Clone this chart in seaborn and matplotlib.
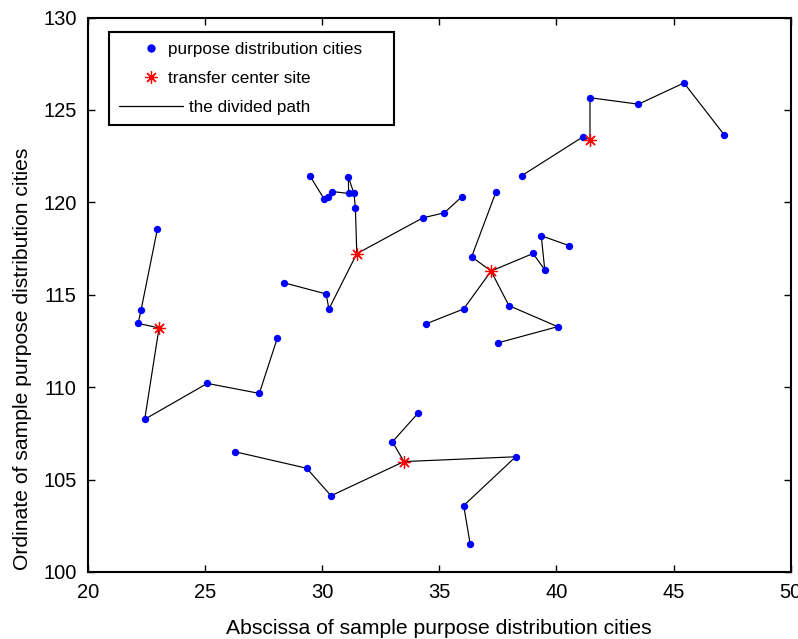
import numpy as np
import pandas as pd
import matplotlib
matplotlib.use("Agg")
import matplotlib.pyplot as plt
from matplotlib.lines import Line2D
from matplotlib.transforms import Affine2D
import seaborn as sns

# sample purpose distribution cities
city_x = [22.97, 22.27, 22.15, 22.43, 25.10, 27.32, 28.09,
          29.47, 30.08, 30.24, 30.44, 31.13, 31.12, 31.36, 31.42,
          30.29, 30.17, 28.36, 34.30, 35.21, 35.97,
          26.29, 29.34, 30.38, 33.00, 34.10, 38.26, 36.04, 36.32,
          37.42, 36.38, 39.00, 39.50, 39.35, 40.53, 36.04, 34.45,
          37.97, 40.05, 37.49,
          47.16, 45.44, 43.50, 41.43, 41.15, 38.53]
city_y = [118.55, 114.15, 113.45, 108.26, 110.20, 109.66, 112.66,
          121.45, 120.19, 120.28, 120.58, 120.48, 121.36, 120.48, 119.69,
          114.23, 115.04, 115.65, 119.16, 119.43, 120.31,
          106.50, 105.61, 104.12, 107.04, 108.60, 106.23, 103.59, 101.49,
          120.57, 117.05, 117.23, 116.35, 118.19, 117.66, 114.23, 113.43,
          114.41, 113.27, 112.39,
          123.65, 126.46, 125.31, 125.66, 123.56, 121.45]

# transfer center sites
center_x = [23.04, 31.48, 33.49, 37.21, 41.43]
center_y = [113.20, 117.22, 105.97, 116.28, 123.38]

# divided paths: ints are city indices, "Ck" is transfer center k
paths = [
    [0, 1, 2, "C0", 3, 4, 5, 6],
    [7, 8, 9, 10, 11, 12, 13, 14, "C1", 15, 16, 17],
    ["C1", 18, 19, 20],
    [21, 22, 23, "C2", 24, 25],
    ["C2", 26, 27, 28],
    [29, 30, "C3", 31, 32, 33, 34],
    ["C3", 35, 36],
    ["C3", 37, 38, 39],
    [40, 41, 42, 43, "C4", 44, 45],
]

rows = []
for k, p in enumerate(paths):
    for order, node in enumerate(p):
        if isinstance(node, str):
            c = int(node[1:])
            rows.append((k, order, center_x[c], center_y[c]))
        else:
            rows.append((k, order, city_x[node], city_y[node]))
path_df = pd.DataFrame(rows, columns=["path", "order", "x", "y"])
cities = pd.DataFrame({"x": city_x, "y": city_y})
centers = pd.DataFrame({"x": center_x, "y": center_y})

sns.set_style("white")
plt.rcParams["font.family"] = ["Liberation Sans", "DejaVu Sans"]
plt.rcParams["text.color"] = "black"
plt.rcParams["axes.labelcolor"] = "black"
plt.rcParams["xtick.color"] = "black"
plt.rcParams["ytick.color"] = "black"

fig = plt.figure(figsize=(7.98, 6.39), dpi=100)
ax = fig.add_axes([0.11, 0.105, 0.881, 0.8676])

sns.lineplot(data=path_df, x="x", y="y", units="path", estimator=None, sort=False,
             color="black", linewidth=0.85, ax=ax, legend=False)
sns.scatterplot(data=cities, x="x", y="y", color="#0000ff", s=28, linewidth=0,
                ax=ax, legend=False, zorder=3)
sns.scatterplot(data=centers, x="x", y="y", color="red", marker=(8, 2, 0), s=75,
                linewidth=0.9, ax=ax, legend=False, zorder=4)

ax.set_xlim(20, 50)
ax.set_ylim(100, 130)
ax.set_xticks(np.arange(20, 51, 5))
ax.set_yticks(np.arange(100, 131, 5))
ax.tick_params(direction="in", length=5, width=1, labelsize=14.5, pad=8,
               top=True, right=True, bottom=True, left=True)
for s in ax.spines.values():
    s.set_visible(True)
    s.set_color("black")
    s.set_linewidth(1.5)
ax.set_xlabel("Abscissa of sample purpose distribution cities", fontsize=15.2, labelpad=12)
ax.set_ylabel("Ordinate of sample purpose distribution cities", fontsize=15.2)
# the y label sits below the middle of the axis in the original
ax.yaxis.set_label_coords(-0.079, 0.384)

handles = [
    Line2D([], [], color="#0000ff", marker="o", markersize=5, linestyle="none"),
    Line2D([], [], color="red", marker=(8, 2, 0), markersize=9, markeredgewidth=0.9,
           linestyle="none"),
    Line2D([], [], color="black", linewidth=0.9),
]
labels = ["purpose distribution cities", "transfer center site", "the divided path"]
leg = ax.legend(handles, labels, loc="upper left", bbox_to_anchor=(0.030, 0.974),
                borderaxespad=0, fontsize=12.3, handlelength=3.75, labelspacing=0.8,
                fancybox=False, framealpha=1, edgecolor="black", numpoints=1,
                borderpad=0.6, handletextpad=0.36)
leg.get_frame().set_linewidth(1.5)
# marker rows sit closer to their labels, as in the original legend
for t in leg.get_texts()[:2]:
    t.set_transform(t.get_transform() + Affine2D().translate(-21, 0))

fig.savefig("out.png", dpi=100)
